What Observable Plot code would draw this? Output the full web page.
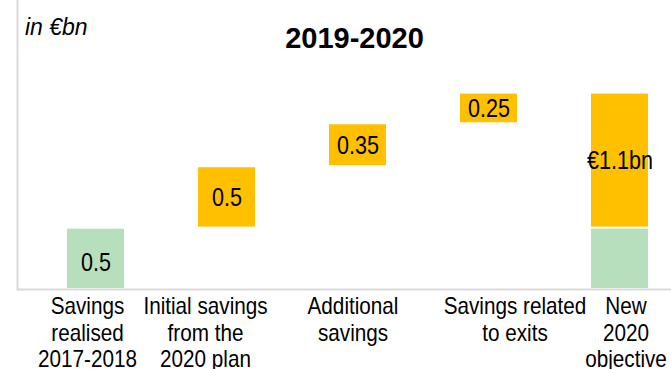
<!DOCTYPE html>
<html><head><meta charset="utf-8">
<script src="https://cdn.jsdelivr.net/npm/d3@7"></script>
<script src="https://cdn.jsdelivr.net/npm/@observablehq/plot@0.6"></script>
<style>
html,body{margin:0;padding:0;background:#fff;}
#wrap{position:relative;width:671px;height:369px;overflow:hidden;font-family:"Liberation Sans",Arial,sans-serif;color:#000;}
#chart svg{display:block;}
#unit{position:absolute;left:25px;top:15.5px;font-style:italic;font-size:23px;line-height:1;}
#title{position:absolute;left:0;width:709px;text-align:center;top:24px;font-weight:bold;font-size:29px;line-height:1;}
</style></head><body>
<div id="wrap"><div id="chart"></div><div id="unit">in €bn</div><div id="title">2019-2020</div></div>
<script>
// ---- data ----
const categories = ["Savings realised 2017-2018", "Initial savings from the 2020 plan", "Additional savings", "Savings related to exits", "New 2020 objective"];
const tickLines = [["Savings", "realised", "2017-2018"], ["Initial savings", "from the", "2020 plan"], ["Additional", "savings"], ["Savings related", "to exits"], ["New", "2020", "objective"]];
const stepValues = [0.5, 0.5, 0.35, 0.25];
const stepKinds = ["realised", "new", "new", "new"];
const stepLabels = ["0.5", "0.5", "0.35", "0.25"];
const totalRealised = 0.5;
const totalNew = 1.1;
const totalLabel = "€1.1bn";

// ---- build table ----
const bars = [];
let cum = 0;
stepValues.forEach((v, i) => {
  bars.push({cat: categories[i], y1: cum, y2: cum + v, kind: stepKinds[i], label: stepLabels[i]});
  cum += v;
});
bars.push({cat: categories[4], y1: 0, y2: totalRealised, kind: "realised", label: ""});
bars.push({cat: categories[4], y1: totalRealised, y2: totalRealised + totalNew, kind: "new", label: totalLabel});
const ticks = categories.map((c, i) => ({cat: c, text: tickLines[i].join("\n")}));
const labelNudge = [-8.5, -21.5, -5, 26, 6];

const green = "#b8dfbd", orange = "#ffc000", lineColor = "#d9d9d9";

const plot = Plot.plot({
  width: 671, height: 369,
  marginTop: 0, marginLeft: 17, marginRight: 0, marginBottom: 80,
  x: {domain: categories, paddingInner: 0.563, paddingOuter: 0.268, align: 0.688, axis: null},
  y: {domain: [0, 2.354], axis: null},
  color: {domain: ["realised", "new"], range: [green, orange]},
  style: {fontFamily: "'Liberation Sans', Arial, sans-serif", background: "white", color: "black", overflow: "visible"},
  marks: [
    Plot.ruleY([0], {stroke: lineColor, strokeWidth: 2}),
    Plot.frame({anchor: "left", stroke: lineColor, strokeWidth: 2}),
    Plot.barY(bars, {x: "cat", y1: "y1", y2: "y2", fill: "kind", insetTop: 1, insetBottom: 1}),
    Plot.text(bars.filter(d => d.kind === "new"), {x: "cat", y: d => (d.y1 + d.y2) / 2, text: "label", fontSize: 26, fill: "black"}),
    Plot.text(bars.filter(d => d.kind === "realised" && d.label), {x: "cat", y: d => (d.y1 + d.y2) / 2, text: "label", fontSize: 26, fill: "black", dy: 4}),
    ...ticks.map((t, i) => Plot.text([t], {x: "cat", text: "text", frameAnchor: "bottom", lineAnchor: "top", dy: 5.4, dx: labelNudge[i], fontSize: 23, lineHeight: 1.16, fill: "black"}))
  ]
});
document.getElementById("chart").appendChild(plot);

// horizontal condensing of label text (narrow typeface look)
const groups = plot.querySelectorAll('g[aria-label="text"]');
groups.forEach((g, gi) => {
  const sx = gi < 2 ? 0.83 : 0.9;
  g.querySelectorAll("text").forEach(t => {
    t.setAttribute("transform", (t.getAttribute("transform") || "") + ` scale(${sx},1)`);
  });
});
</script>
</body></html>
